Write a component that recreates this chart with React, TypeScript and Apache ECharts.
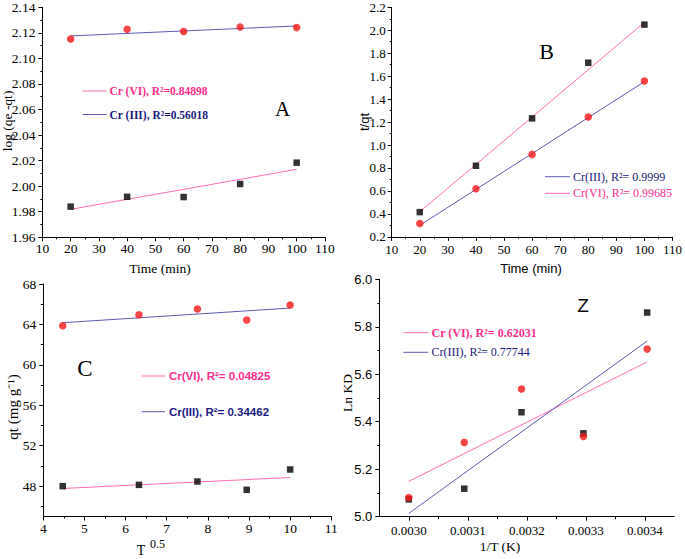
import React, { useEffect, useRef } from "react";
import * as echarts from "echarts";

// ---------- data ----------
const timeMin = [20, 40, 60, 80, 100];
const fitTimeEnds = [20, 100];

// Panel A: log (qe - qt)
const aCircles = [2.1152, 2.1228, 2.121, 2.1246, 2.1241];
const aSquares = [1.984, 1.9917, 1.9915, 2.0017, 2.0184];
const aBlueFit = [2.1176, 2.1254];
const aPinkFit = [1.9819, 2.0132];

// Panel B: t/qt
const bSquares = [0.415, 0.819, 1.232, 1.717, 2.049];
const bCircles = [0.316, 0.619, 0.918, 1.244, 1.558];
const bPinkFit = [0.418, 2.069];
const bBlueFit = [0.3, 1.552];

// Panel C: qt vs T^0.5
const sqrtTime = [4.472, 6.325, 7.746, 8.944, 10];
const fitSqrtEnds = [4.472, 10];
const cCircles = [63.87, 64.96, 65.52, 64.44, 65.92];
const cSquares = [48.0, 48.13, 48.46, 47.64, 49.65];
const cBlueFit = [64.17, 65.62];
const cPinkFit = [47.77, 48.86];
const cYTicks = [48, 52, 56, 60, 64, 68];
const cYMinor = [46, 50, 54, 58, 62, 66];

// Panel Z: Ln KD vs 1/T
const invT = [0.003, 0.003094, 0.003191, 0.003296, 0.003404];
const fitInvTEnds = [0.003, 0.003404];
const dCircles = [5.081, 5.313, 5.538, 5.338, 5.706];
const dSquares = [5.073, 5.118, 5.44, 5.351, 5.86];
const dPinkFit = [5.149, 5.652];
const dBlueFit = [5.014, 5.74];
const dXTicks = [0.003, 0.0031, 0.0032, 0.0033, 0.0034];
const dXMinor = [0.00305, 0.00315, 0.00325, 0.00335];

// ---------- styles ----------
const SERIF = "'Liberation Serif', 'Times New Roman', serif";
const SANS = "'Liberation Sans', Arial, sans-serif";
const PINK_LINE = "#ff6eb4";
const BLUE_LINE = "#5a5ab4";
const PINK_TEXT = "#ff2d8c";
const NAVY_TEXT = "#1a1a80";
const RED = "#f71616";

const pairs = (xs: number[], ys: number[]) => xs.map((x, i) => [x, ys[i]]);

const baseAxis = (gridIndex: number, extra: any) => ({
  type: "value",
  gridIndex,
  splitLine: { show: false },
  axisLine: { show: true, onZero: false, lineStyle: { color: "#000", width: 1 } },
  axisTick: { show: true, length: 4, lineStyle: { color: "#000" } },
  ...extra,
});

const scatter = (xi: number, yi: number, data: number[][], kind: "circle" | "rect") => ({
  type: "scatter",
  xAxisIndex: xi,
  yAxisIndex: yi,
  data,
  symbol: kind,
  symbolSize: kind === "circle" ? 7.5 : 6.5,
  itemStyle: { color: kind === "circle" ? RED : "#000" },
  z: 5,
});

const fit = (xi: number, yi: number, data: number[][], color: string) => ({
  type: "line",
  xAxisIndex: xi,
  yAxisIndex: yi,
  data,
  symbol: "none",
  lineStyle: { color, width: 1 },
  z: 3,
});

const txt = (text: string, x: number, y: number, size: number, family: string, fill = "#000", extra: any = {}) => ({
  type: "text",
  x,
  y,
  rotation: extra.rotation || 0,
  style: {
    text,
    fill,
    fontSize: size,
    fontFamily: family,
    fontWeight: extra.bold ? "bold" : "normal",
    textAlign: extra.align || "center",
    textVerticalAlign: "middle",
  },
});

const legLine = (x1: number, x2: number, y: number, color: string) => ({
  type: "line",
  shape: { x1, y1: y, x2, y2: y },
  style: { stroke: color, lineWidth: 1 },
});

export default function App() {
  const ref = useRef<HTMLDivElement>(null);

  useEffect(() => {
    if (!ref.current) return;
    const chart = echarts.init(ref.current, null, { renderer: "svg" });

    const lblSerif = (size: number, margin: number, fmt: (v: number) => string) => ({
      fontFamily: SERIF,
      fontSize: size,
      color: "#000",
      margin,
      formatter: fmt,
    });

    const minor = { show: true, splitNumber: 2, length: 2, lineStyle: { color: "#000" } };

    const option: any = {
      animation: false,
      backgroundColor: "#fff",
      grid: [
        { left: 42.4, top: 7.3, width: 282.5, height: 230 },
        { left: 391.7, top: 7.3, width: 282.5, height: 229.5 },
        { left: 43.3, top: 284, width: 288, height: 232.5 },
        { left: 379.3, top: 279.3, width: 295, height: 237.4 },
      ],
      xAxis: [
        baseAxis(0, {
          min: 10, max: 110, interval: 10, minorTick: minor,
          axisLabel: lblSerif(13.5, 4, (v: number) => String(v)),
        }),
        baseAxis(1, {
          min: 10, max: 110, interval: 10, minorTick: minor,
          axisLabel: lblSerif(13, 6, (v: number) => String(v)),
        }),
        baseAxis(2, {
          min: 4, max: 11, interval: 1, minorTick: minor,
          axisLabel: lblSerif(13.5, 5, (v: number) => String(v)),
        }),
        baseAxis(3, {
          min: 0.00295, max: 0.00345,
          axisTick: { show: true, length: 4, customValues: dXTicks, lineStyle: { color: "#000" } },
          axisLabel: { ...lblSerif(13, 7, (v: number) => v.toFixed(4)), customValues: dXTicks },
        }),
        baseAxis(3, {
          min: 0.00295, max: 0.00345, position: "bottom",
          axisLine: { show: false, onZero: false },
          axisTick: { show: true, length: 2.5, customValues: dXMinor, lineStyle: { color: "#000" } },
          axisLabel: { show: false },
        }),
      ],
      yAxis: [
        baseAxis(0, {
          min: 1.96, max: 2.14, interval: 0.02, minorTick: minor,
          axisLabel: lblSerif(13.5, 7, (v: number) => v.toFixed(2)),
        }),
        baseAxis(1, {
          min: 0.2, max: 2.2, interval: 0.2, minorTick: minor,
          axisLabel: lblSerif(13, 6, (v: number) => v.toFixed(1)),
        }),
        baseAxis(2, {
          min: 45, max: 68,
          axisTick: { show: true, length: 4, customValues: cYTicks, lineStyle: { color: "#000" } },
          axisLabel: { ...lblSerif(13.5, 7, (v: number) => String(v)), customValues: cYTicks },
        }),
        baseAxis(2, {
          min: 45, max: 68, position: "left",
          axisLine: { show: false, onZero: false },
          axisTick: { show: true, length: 2.5, customValues: cYMinor, lineStyle: { color: "#000" } },
          axisLabel: { show: false },
        }),
        baseAxis(3, {
          min: 5.0, max: 6.0, interval: 0.2, minorTick: minor,
          axisLabel: { fontFamily: SANS, fontSize: 13, color: "#000", margin: 7, formatter: (v: number) => v.toFixed(1) },
        }),
      ],
      series: [
        // A
        fit(0, 0, pairs(fitTimeEnds, aBlueFit), BLUE_LINE),
        fit(0, 0, pairs(fitTimeEnds, aPinkFit), PINK_LINE),
        scatter(0, 0, pairs(timeMin, aCircles), "circle"),
        scatter(0, 0, pairs(timeMin, aSquares), "rect"),
        // B
        fit(1, 1, pairs(fitTimeEnds, bPinkFit), PINK_LINE),
        fit(1, 1, pairs(fitTimeEnds, bBlueFit), BLUE_LINE),
        scatter(1, 1, pairs(timeMin, bSquares), "rect"),
        scatter(1, 1, pairs(timeMin, bCircles), "circle"),
        // C
        fit(2, 2, pairs(fitSqrtEnds, cBlueFit), BLUE_LINE),
        fit(2, 2, pairs(fitSqrtEnds, cPinkFit), PINK_LINE),
        scatter(2, 2, pairs(sqrtTime, cCircles), "circle"),
        scatter(2, 2, pairs(sqrtTime, cSquares), "rect"),
        // Z
        fit(3, 4, pairs(fitInvTEnds, dPinkFit), PINK_LINE),
        fit(3, 4, pairs(fitInvTEnds, dBlueFit), BLUE_LINE),
        scatter(3, 4, pairs(invT, dSquares), "rect"),
        scatter(3, 4, pairs(invT, dCircles), "circle"),
      ],
      graphic: [
        // Panel A
        txt("log (qe -qt)", 7.5, 121, 13.5, SERIF, "#000", { rotation: Math.PI / 2 }),
        txt("Time (min)", 160, 268, 13.5, SERIF),
        txt("A", 282.5, 108.5, 21, SERIF),
        legLine(82.7, 106.7, 91, PINK_LINE),
        txt("Cr (VI), R²=0.84898", 109.5, 91, 11.5, SERIF, PINK_TEXT, { align: "left", bold: true }),
        legLine(82.7, 106.7, 114.5, BLUE_LINE),
        txt("Cr (III), R²=0.56018", 109.5, 114.5, 11.5, SERIF, NAVY_TEXT, { align: "left", bold: true }),
        // Panel B
        txt("t/qt", 364.5, 122, 13, SANS, "#000", { rotation: Math.PI / 2 }),
        txt("Time (min)", 531, 268, 13, SANS),
        txt("B", 546.7, 51, 22, SERIF),
        legLine(545, 570, 176.7, BLUE_LINE),
        txt("Cr(III), R²= 0.9999", 573, 176.7, 12, SERIF, NAVY_TEXT, { align: "left" }),
        legLine(545, 570, 193.3, PINK_LINE),
        txt("Cr(VI), R²= 0.99685", 573, 193.3, 12, SERIF, PINK_TEXT, { align: "left" }),
        // Panel C
        txt("qt (mg g⁻¹)", 13, 407, 15, SERIF, "#000", { rotation: Math.PI / 2 }),
        txt("T", 141, 550, 14, SERIF),
        txt("0.5", 150, 544, 12, SERIF, "#000", { align: "left" }),
        txt("C", 85, 368.5, 23, SERIF),
        legLine(141.7, 165, 376, PINK_LINE),
        txt("Cr(VI), R²= 0.04825", 169, 376, 11.5, SANS, PINK_TEXT, { align: "left", bold: true }),
        legLine(141.7, 165, 411.7, BLUE_LINE),
        txt("Cr(III), R²= 0.34462", 169, 411.7, 11.5, SANS, NAVY_TEXT, { align: "left", bold: true }),
        // Panel Z
        txt("Ln KD", 347.5, 393, 13.5, SERIF, "#000", { rotation: Math.PI / 2 }),
        txt("1/T (K)", 500, 546.5, 13.5, SERIF),
        txt("Z", 583, 305, 19, SANS),
        legLine(403.3, 428.3, 332.7, PINK_LINE),
        txt("Cr (VI), R²= 0.62031", 431.5, 332.7, 12, SERIF, PINK_TEXT, { align: "left", bold: true }),
        legLine(403.3, 428.3, 352.3, BLUE_LINE),
        txt("Cr(III), R²= 0.77744", 431.5, 352.3, 12, SERIF, NAVY_TEXT, { align: "left" }),
      ],
    };

    chart.setOption(option);
    return () => chart.dispose();
  }, []);

  return (
    <div
      ref={ref}
      style={{ position: "absolute", left: 0, top: 0, width: 685, height: 559, background: "#fff" }}
    />
  );
}
